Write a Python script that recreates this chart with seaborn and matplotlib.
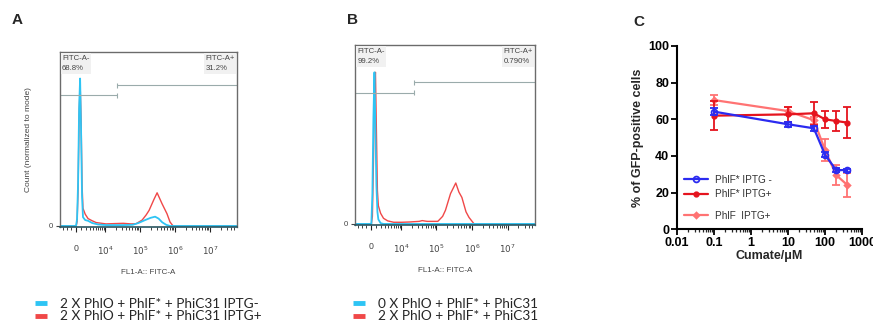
import numpy as np
import pandas as pd
import matplotlib
matplotlib.use("Agg")
import matplotlib.pyplot as plt
from matplotlib.lines import Line2D
import seaborn as sns

# ---- flow histograms (FITC intensity vs count normalized to mode) ----
hist_a_blue_x = [-3780, 0, 200, 400, 600, 800, 1000, 1200, 1400, 1900, 2600, 3800, 6000, 10500,
                 33000, 62000, 90000, 140000, 200000, 270000, 340000, 430000, 560000, 720000, 5.9e7]
hist_a_blue_y = [0, 0, 5, 30, 80, 100, 65, 20, 6, 4, 3.5, 2, 1, 0.6,
                 0.6, 0.8, 2, 4, 5.5, 6.3, 5, 2.5, 0.8, 0, 0]
hist_a_red_x = [-3780, 0, 200, 400, 600, 800, 1000, 1200, 1400, 1900, 2600, 3800, 5200, 10500,
                18000, 33000, 55000, 77000, 115000, 150000, 182000, 250000, 308000, 428000,
                590000, 720000, 880000, 5.9e7]
hist_a_red_y = [0, 0, 3, 25, 75, 97, 72, 28, 12, 8, 5, 3.5, 2.3, 1.4,
                1.6, 1.8, 1.4, 1.5, 4, 7.5, 10.6, 18, 22.5, 15,
                8.3, 2.7, 0, 0]
hist_b_blue_x = [-3780, 0, 200, 400, 600, 800, 1000, 1200, 1400, 1900, 2600, 5.9e7]
hist_b_blue_y = [0, 0, 20, 70, 100, 60, 25, 8, 3, 0.5, 0, 0]
hist_b_red_x = [-3780, 0, 200, 400, 600, 800, 1000, 1200, 1400, 1900, 2600, 3800, 6000, 10500,
                18000, 33000, 40000, 55000, 110000, 150000, 180000, 250000, 351000, 430000,
                521000, 680000, 826000, 1150000, 5.9e7]
hist_b_red_y = [0, 0, 5, 40, 90, 100, 60, 22, 12, 7, 3.7, 2, 1.1, 1.1,
                1.3, 1.7, 2.2, 1.7, 1.7, 5, 9, 20, 27, 21,
                17.5, 8, 4.3, 0, 0]

# gates: split point and heights, with percentages
gate_split = [22000, 23500]
gate_neg_y = [88.5, 86.5]
gate_pos_y = [95.3, 93.5]
gate_neg_pct = ["68.8%", "99.2%"]
gate_pos_pct = ["31.2%", "0.790%"]

legend_a = ["2 X PhlO + PhlF* + PhiC31 IPTG-", "2 X PhlO + PhlF* + PhiC31 IPTG+"]
legend_b = ["0 X PhlO + PhlF* + PhiC31", "2 X PhlO + PhlF* + PhiC31"]

# ---- panel C: cumate dose response ----
cumate = [0.1, 10, 50, 100, 200, 400]
phlf_star_minus = [64.2, 57.3, 55.1, 40.7, 32.3, 32.3]
phlf_star_minus_err = [2.0, 1.5, 1.2, 1.5, 1.0, 0.8]
phlf_star_plus = [62.0, 62.7, 63.3, 60.0, 59.1, 58.2]
phlf_star_plus_err = [8.0, 4.0, 6.4, 4.5, 5.5, 8.6]
phlf_plus = [70.5, 64.5, 59.5, 43.3, 29.6, 24.2]
phlf_plus_err = [2.7, 2.3, 2.0, 6.0, 5.5, 6.4]

CYAN = "#2ec4f4"
HRED = "#f04848"
BLUE = "#2b2bf0"
RED = "#e5141e"
PINK = "#ff7373"

sns.set_theme(style="white")
plt.rcParams["font.family"] = ["Liberation Sans", "DejaVu Sans"]

fig = plt.figure(figsize=(8.73, 3.23), dpi=100)
W, H = 873, 323


def px_axes(x0, y0, x1, y1):
    return fig.add_axes([x0 / W, 1 - y1 / H, (x1 - x0) / W, (y1 - y0) / H])


C_BI = 2985.0


def fwd(x):
    return np.arcsinh(np.asarray(x) / C_BI)


def inv(y):
    return C_BI * np.sinh(np.asarray(y))


def draw_hist(ax, blue_x, blue_y, red_x, red_y, i, ylabel):
    df_red = pd.DataFrame({"x": red_x, "y": red_y})
    df_blue = pd.DataFrame({"x": blue_x, "y": blue_y})
    sns.lineplot(data=df_red, x="x", y="y", ax=ax, color=HRED, lw=1.0, sort=False)
    sns.lineplot(data=df_blue, x="x", y="y", ax=ax, color=CYAN, lw=1.3, sort=False)
    ax.set_xscale("function", functions=(fwd, inv))
    ax.set_xlim(-3780, 5.9e7)
    ax.set_ylim(-0.7, 118)
    # gates
    gc = "#9aabab"
    ax.hlines(gate_neg_y[i], -3780, gate_split[i], color=gc, lw=0.8)
    ax.hlines(gate_pos_y[i], gate_split[i], 5.9e7, color=gc, lw=0.8)
    ax.vlines(gate_split[i], gate_neg_y[i] - 1.6, gate_neg_y[i] + 1.6, color=gc, lw=0.8)
    ax.vlines(gate_split[i], gate_pos_y[i] - 1.6, gate_pos_y[i] + 1.6, color=gc, lw=0.8)
    box = dict(facecolor="#f1f1f1", edgecolor="none", pad=1.0)
    ax.text(0.012, 0.985, "FITC-A-\n" + gate_neg_pct[i], transform=ax.transAxes, ha="left", va="top",
            fontsize=5.6, color="#444444", linespacing=1.7, bbox=box)
    ax.text(0.988, 0.985, "FITC-A+\n" + gate_pos_pct[i], transform=ax.transAxes, ha="right", va="top",
            fontsize=5.6, color="#444444", linespacing=1.7, bbox=box, multialignment="left")
    # axis ticks
    major = [0, 1e4, 1e5, 1e6, 1e7]
    minor = [-3000, -2000, -1000]
    for e in range(3, 8):
        minor += [k * 10 ** e for k in range(1, 10)]
    minor = [m for m in minor if m not in major and m < 5.9e7]
    ax.set_xticks(major)
    ax.set_xticklabels(["0", "$10^4$", "$10^5$", "$10^6$", "$10^7$"])
    ax.set_xticks(minor, minor=True)
    ax.tick_params(axis="x", which="major", direction="out", length=3.5, width=0.8, pad=9,
                   labelsize=6.3, colors="#222222", labelcolor="#444444", bottom=True)
    ax.tick_params(axis="x", which="minor", direction="out", length=2, width=0.6, colors="#222222",
                   bottom=True)
    ax.set_yticks([0])
    ax.set_yticklabels(["0"])
    ax.tick_params(axis="y", direction="out", length=3, width=0.8, labelsize=5.6, pad=2,
                   colors="#444444", left=True)
    for s in ax.spines.values():
        s.set_color("#6b6b6b")
        s.set_linewidth(1.0)
    ax.spines["bottom"].set_color("#2a5560")
    ax.spines["bottom"].set_linewidth(1.2)
    ax.set_xlabel("FL1-A:: FITC-A", fontsize=5.8, color="#444444", labelpad=9)
    ax.set_ylabel(ylabel, fontsize=6, color="#444444", labelpad=12)


ax_a = px_axes(60, 52, 237, 227)
draw_hist(ax_a, hist_a_blue_x, hist_a_blue_y, hist_a_red_x, hist_a_red_y, 0, "Count (normalized to mode)")
ax_b = px_axes(355, 45, 535, 225)
draw_hist(ax_b, hist_b_blue_x, hist_b_blue_y, hist_b_red_x, hist_b_red_y, 1, "")

# ---- panel C ----
ax_c = px_axes(677, 46, 862, 229.3)
series = [
    (phlf_star_minus, phlf_star_minus_err, BLUE, "o", "none", 4.2, "PhlF* IPTG -"),
    (phlf_star_plus, phlf_star_plus_err, RED, "o", RED, 3.2, "PhlF* IPTG+"),
    (phlf_plus, phlf_plus_err, PINK, "D", PINK, 3.0, "PhlF  IPTG+"),
]
handles = []
for vals, errs, col, mk, mfc, ms, lab in reversed(series):
    df = pd.DataFrame({"cumate": cumate, "pct": vals})
    ax_c.errorbar(cumate, vals, yerr=errs, fmt="none", ecolor=col, elinewidth=1.3, capsize=3.2,
                  capthick=1.3)
    sns.lineplot(data=df, x="cumate", y="pct", ax=ax_c, color=col, lw=1.6, marker=mk, markersize=ms,
                 markerfacecolor=mfc, markeredgecolor=col, markeredgewidth=1.3)
for vals, errs, col, mk, mfc, ms, lab in series:
    handles.append(Line2D([], [], color=col, lw=1.6, marker=mk, markersize=ms, markerfacecolor=mfc,
                          markeredgecolor=col, markeredgewidth=1.3, label=lab))

ax_c.set_xscale("log")
ax_c.set_xlim(0.01, 1000)
ax_c.set_ylim(0, 100)
ax_c.set_xticks([0.01, 0.1, 1, 10, 100, 1000])
ax_c.set_xticklabels(["0.01", "0.1", "1", "10", "100", "1000"])
ax_c.set_yticks([0, 20, 40, 60, 80, 100])
ax_c.xaxis.set_minor_locator(matplotlib.ticker.LogLocator(base=10, subs=np.arange(2, 10), numticks=20))
ax_c.tick_params(axis="both", which="major", direction="out", length=4, width=1.3, labelsize=9,
                 colors="black", bottom=True, left=True, pad=1.5)
ax_c.tick_params(axis="x", which="minor", direction="out", length=2, width=0.9, bottom=True)
for lab in ax_c.get_xticklabels() + ax_c.get_yticklabels():
    lab.set_fontweight("bold")
sns.despine(ax=ax_c)
for s in ["left", "bottom"]:
    ax_c.spines[s].set_color("black")
    ax_c.spines[s].set_linewidth(1.5)
ax_c.set_xlabel("Cumate/\u03bcM", fontsize=9, fontweight="bold", labelpad=1)
ax_c.set_ylabel("% of GFP-positive cells", fontsize=9, fontweight="bold", labelpad=3)

leg1 = ax_c.legend(handles=handles[:2], loc="center left", bbox_to_anchor=(0.04, 0.23), frameon=False,
                   fontsize=7.2, handlelength=2.4, handletextpad=0.7, labelspacing=0.45, borderpad=0,
                   borderaxespad=0, labelcolor="#333333")
ax_c.add_artist(leg1)
ax_c.legend(handles=handles[2:], loc="center left", bbox_to_anchor=(0.04, 0.073), frameon=False,
            fontsize=7.2, handlelength=2.4, handletextpad=0.7, borderpad=0, borderaxespad=0,
            labelcolor="#333333")


# ---- bottom legends ----
def bottom_legend(labels, x):
    hs = [Line2D([], [], color=c, lw=3.5, solid_capstyle="butt") for c in (CYAN, HRED)]
    fig.legend(hs, labels, loc="center left", bbox_to_anchor=(x, (H - 310) / H), frameon=False,
               handlelength=0.9, handletextpad=0.95, labelspacing=0.05, borderpad=0,
               borderaxespad=0, prop={"family": "Lato", "size": 9.8})


bottom_legend(legend_a, 35 / W)
bottom_legend(legend_b, 353 / W)

# panel letters
for letter, x, y in [("A", 17, 20), ("B", 352, 20), ("C", 639, 22)]:
    fig.text(x / W, 1 - y / H, letter, fontsize=11, fontweight="bold", ha="center", va="center")

fig.savefig("out.png", dpi=100)
